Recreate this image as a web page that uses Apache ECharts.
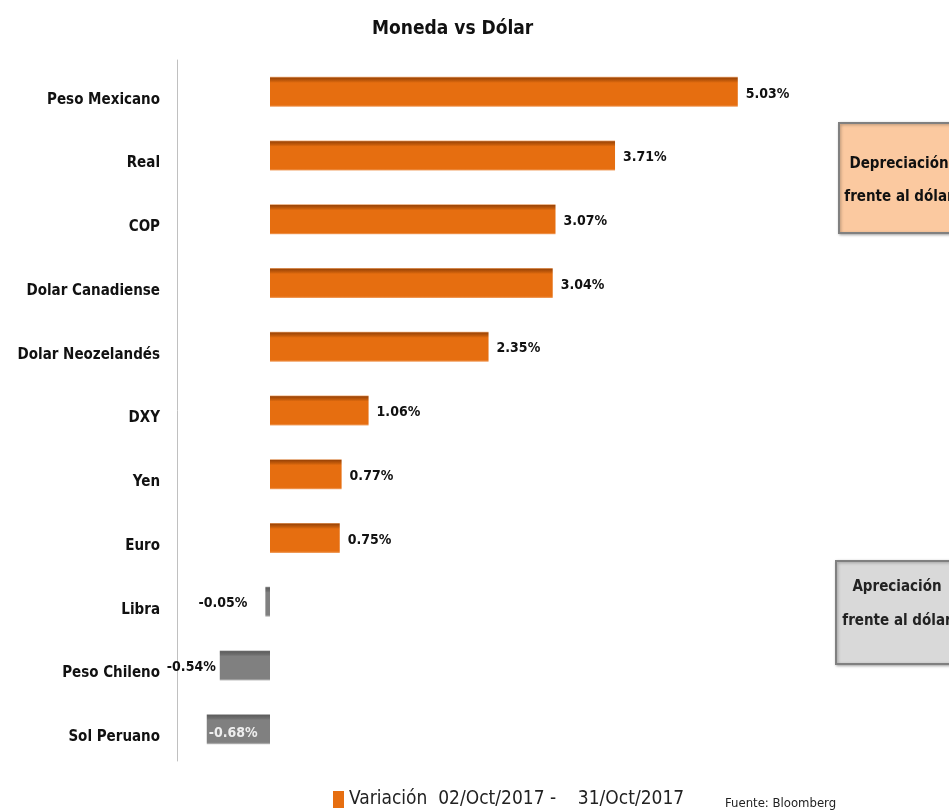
<!DOCTYPE html>
<html>
<head>
<meta charset="utf-8">
<script src="https://cdn.jsdelivr.net/npm/echarts@6/dist/echarts.min.js"></script>
<style>
  html, body { margin: 0; padding: 0; background: #fff; }
  #chart { width: 949px; height: 811px; }
</style>
</head>
<body>
<div id="chart"></div>
<script>
const FONT = "'Liberation Sans Narrow', 'DejaVu Sans Condensed', 'Liberation Sans', sans-serif"

const categories = [
  "Peso Mexicano", "Real", "COP", "Dolar Canadiense", "Dolar Neozelandés",
  "DXY", "Yen", "Euro", "Libra", "Peso Chileno", "Sol Peruano",
]
const values = [5.03, 3.71, 3.07, 3.04, 2.35, 1.06, 0.77, 0.75, -0.05, -0.54, -0.68]
const seriesName = "Variación  02/Oct/2017 -    31/Oct/2017"

const orangeFill = {
  type: "linear", x: 0, y: 0, x2: 0, y2: 1,
  colorStops: [
    { offset: 0, color: "#f3b07a" },
    { offset: 0.04, color: "#9e4607" },
    { offset: 0.14, color: "#c75d0b" },
    { offset: 0.2, color: "#e66e10" },
    { offset: 0.94, color: "#e66e10" },
    { offset: 1, color: "#f2a56a" },
  ],
}
const grayFill = {
  type: "linear", x: 0, y: 0, x2: 0, y2: 1,
  colorStops: [
    { offset: 0, color: "#b0b0b0" },
    { offset: 0.04, color: "#5e5e5e" },
    { offset: 0.14, color: "#6e6e6e" },
    { offset: 0.2, color: "#808080" },
    { offset: 0.94, color: "#808080" },
    { offset: 1, color: "#bdbdbd" },
  ],
}

const chart = echarts.init(document.getElementById("chart"), null, { renderer: "canvas" })

const barData = values.map((v, i) => {
  const item = { value: v, itemStyle: { color: v >= 0 ? orangeFill : grayFill } }
  if (v < 0) {
    item.label = i === values.length - 1
      ? { position: "insideLeft", color: "#eeeeee", distance: 2, offset: [0, 4] }
      : { position: "left", distance: i === 8 ? 18 : 4 }
  }
  return item
})

chart.setOption({
  animation: false,
  title: {
    text: "Moneda vs Dólar",
    left: 367,
    top: 15,
    textStyle: { fontFamily: FONT, fontSize: 19, fontWeight: "bold", color: "#111" },
  },
  grid: { left: 177, top: 60, width: 744, height: 701, outerBoundsMode: "none", containLabel: false },
  xAxis: {
    type: "value",
    min: -1,
    max: 7,
    show: false,
  },
  yAxis: {
    type: "category",
    data: categories,
    inverse: true,
    axisLine: { onZero: false, lineStyle: { color: "#c0c0c0", width: 1 } },
    axisTick: { show: false },
    axisLabel: {
      margin: 17,
      fontFamily: FONT,
      fontSize: 15,
      fontWeight: "bold",
      color: "#111",
      verticalAlign: "top",
      lineHeight: 16,
    },
  },
  legend: {
    data: [seriesName],
    left: 328,
    top: 785,
    icon: "rect",
    itemWidth: 11,
    itemHeight: 17,
    itemGap: 6,
    textStyle: { fontFamily: FONT, fontSize: 19, color: "#222" },
  },
  series: [
    {
      name: seriesName,
      type: "bar",
      data: barData,
      barWidth: 30,
      color: "#e66e10",
      label: {
        show: true,
        position: "right",
        distance: 8,
        offset: [0, 2],
        formatter: (p) => p.value.toFixed(2) + "%",
        fontFamily: FONT,
        fontSize: 14,
        fontWeight: "bold",
        color: "#111",
      },
    },
  ],
  graphic: [
    {
      type: "rect",
      left: 838, top: 122,
      shape: { width: 130, height: 110 },
      style: { fill: "#fbc9a0", stroke: "#808080", lineWidth: 2, shadowBlur: 3, shadowColor: "rgba(0,0,0,0.3)", shadowOffsetX: 1, shadowOffsetY: 1 },
    },
    {
      type: "text",
      x: 899, y: 148,
      style: {
        text: "Depreciación\nfrente al dólar",
        fontFamily: FONT, fontSize: 15, fontWeight: "bold", fill: "#111",
        lineHeight: 33, align: "center",
      },
    },
    {
      type: "rect",
      left: 835, top: 560,
      shape: { width: 130, height: 103 },
      style: { fill: "#d9d9d9", stroke: "#808080", lineWidth: 2, shadowBlur: 3, shadowColor: "rgba(0,0,0,0.3)", shadowOffsetX: 1, shadowOffsetY: 1 },
    },
    {
      type: "text",
      x: 897, y: 570,
      style: {
        text: "Apreciación\nfrente al dólar",
        fontFamily: FONT, fontSize: 15, fontWeight: "bold", fill: "#222",
        lineHeight: 34, align: "center",
      },
    },
    {
      type: "text",
      left: 725, top: 797,
      style: { text: "Fuente: Bloomberg", fontFamily: FONT, fontSize: 13, fill: "#222" },
    },
  ],
})
</script>
</body>
</html>
